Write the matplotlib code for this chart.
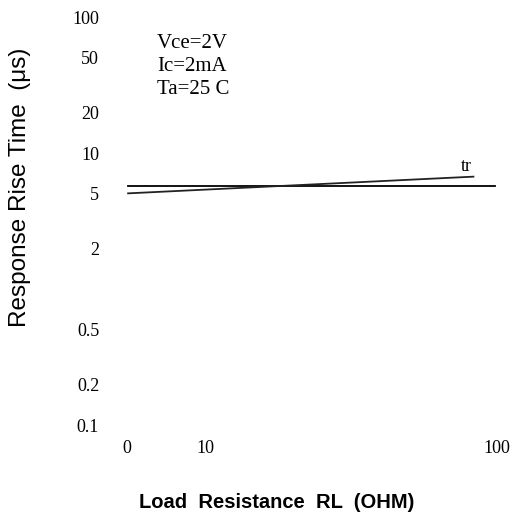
import matplotlib
matplotlib.use("Agg")
import matplotlib.pyplot as plt

# load resistance (axis units) and rise time (us)
flat_x = [0.3, 101.5]
flat_y = [5.7, 5.7]
tr_x = [0.3, 95.5]
tr_y = [5.05, 6.7]

y_ticks = [100, 50, 20, 10, 5, 2, 0.5, 0.2, 0.1]
y_labels = ["100", "50", "20", "10", "5", "2", "0.5", "0.2", "0.1"]
x_ticks = [0, 21.5, 102]
x_labels = ["0", "10", "100"]

conditions = ["Vce=2V", "Ic=2mA", "Ta=25 C"]

serif = ["Liberation Serif", "DejaVu Serif"]
sans = ["Liberation Sans", "DejaVu Sans"]

fig = plt.figure(figsize=(5.16, 5.18), dpi=100)
ax = fig.add_axes([127 / 516, 1 - 425 / 518, 370 / 516, 408 / 518])

ax.plot(flat_x, flat_y, color="black", lw=1.3)
ax.plot(tr_x, tr_y, color="#222222", lw=1.3)
ax.text(93.5, 7.9, "tr", family=serif, fontsize=13, ha="center", va="center")

ax.set_yscale("log")
ax.set_xlim(0, 100)
ax.set_ylim(0.1, 100)
ax.minorticks_off()

ax.set_yticks(y_ticks)
ax.set_yticklabels(y_labels, family=serif, fontsize=13)
ax.set_xticks(x_ticks)
ax.set_xticklabels(x_labels, family=serif, fontsize=13)
ax.tick_params(axis="y", length=0, pad=20)
ax.tick_params(axis="x", length=0, pad=11)
for s in ax.spines.values():
    s.set_visible(False)

for i, line in enumerate(conditions):
    fig.text(157 / 516, 1 - (43 + i * 23.5) / 518, line, family=serif,
             fontsize=15, va="center", ha="left")

fig.text(20 / 516, 1 - 187 / 518, "Response Rise Time  (\u03bcs)", rotation=90,
         family=sans, fontsize=17.5, ha="center", va="center")
fig.text(277 / 516, 1 - 502 / 518, "Load  Resistance  RL  (OHM)", family=sans,
         fontweight="bold", fontsize=14.5, ha="center", va="center")

fig.savefig("out.png", dpi=100, facecolor="white")
